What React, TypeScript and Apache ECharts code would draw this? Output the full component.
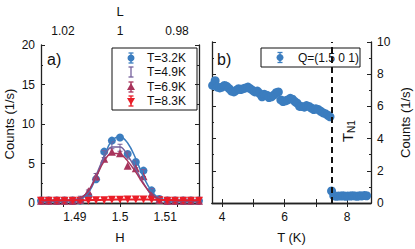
import React, { useEffect, useRef } from "react";
import * as echarts from "echarts";

const H = [1.4825, 1.4842, 1.486, 1.4877, 1.4895, 1.4912, 1.493, 1.4947, 1.4965, 1.4982, 1.5, 1.5017, 1.5035, 1.5052, 1.507, 1.5087, 1.5105, 1.5122, 1.514, 1.5157, 1.5175];
const cnt32 = [0.3, 0.3, 0.3, 0.3, 0.3, 0.3, 0.9, 3.0, 6.5, 7.9, 8.3, 6.2, 5.2, 4.1, 1.6, 0.5, 0.3, 0.3, 0.3, 0.3, 0.3];
const cnt49 = [0.3, 0.3, 0.3, 0.3, 0.3, 0.4, 1.2, 3.3, 6.2, 7.3, 7.0, 6.0, 4.9, 3.8, 1.4, 0.4, 0.3, 0.3, 0.3, 0.3, 0.3];
const cnt69 = [0.3, 0.3, 0.3, 0.3, 0.3, 0.4, 1.5, 3.4, 5.6, 6.5, 6.3, 4.7, 4.4, 3.4, 1.2, 0.4, 0.3, 0.3, 0.3, 0.3, 0.3];
const cnt83 = [0.3, 0.3, 0.3, 0.3, 0.3, 0.3, 0.3, 0.35, 0.35, 0.4, 0.4, 0.45, 0.45, 0.45, 0.4, 0.35, 0.3, 0.3, 0.3, 0.3, 0.3];
const fit32 = [0.3, 0.3, 0.3, 0.3, 0.35, 0.5, 1.3, 3.2, 5.9, 7.9, 8.4, 7.6, 5.6, 3.3, 1.5, 0.6, 0.35, 0.3, 0.3, 0.3, 0.3];
const fit49 = [0.3, 0.3, 0.3, 0.3, 0.35, 0.6, 1.5, 3.5, 5.8, 7.1, 7.1, 6.0, 4.3, 2.5, 1.1, 0.5, 0.35, 0.3, 0.3, 0.3, 0.3];
const fit69 = [0.3, 0.3, 0.3, 0.3, 0.35, 0.6, 1.5, 3.3, 5.3, 6.3, 6.2, 5.3, 3.9, 2.4, 1.1, 0.5, 0.35, 0.3, 0.3, 0.3, 0.3];
const fit83 = [0.35, 0.35, 0.35, 0.35, 0.35, 0.35, 0.36, 0.38, 0.4, 0.42, 0.44, 0.45, 0.45, 0.44, 0.42, 0.4, 0.38, 0.36, 0.35, 0.35, 0.35];

const Ttemp = [3.7, 3.78, 3.85, 3.93, 4.0, 4.08, 4.15, 4.23, 4.3, 4.38, 4.45, 4.53, 4.6, 4.68, 4.75, 4.83, 4.9, 4.98, 5.05, 5.13, 5.2, 5.28, 5.35, 5.43, 5.5, 5.58, 5.65, 5.73, 5.8, 5.88, 5.95, 6.03, 6.1, 6.18, 6.25, 6.33, 6.4, 6.48, 6.55, 6.63, 6.7, 6.78, 6.85, 6.93, 7.0, 7.08, 7.15, 7.23, 7.3, 7.38, 7.45, 7.5, 7.57, 7.65, 7.72, 7.8, 7.87, 7.95, 8.02, 8.1, 8.17, 8.25, 8.32, 8.4, 8.47, 8.55, 8.62];
const cntT = [7.3, 7.6, 7.2, 7.15, 7.2, 7.3, 7.25, 7.1, 6.95, 6.9, 7.0, 7.1, 7.05, 7.1, 7.15, 7.2, 7.1, 7.0, 6.9, 6.95, 6.8, 6.6, 6.75, 6.7, 6.55, 6.6, 6.7, 6.85, 6.9, 6.4, 6.3, 6.35, 6.4, 6.5, 6.45, 6.3, 6.2, 6.0, 6.0, 5.95, 6.05, 6.0, 5.9, 5.8, 5.85, 5.8, 5.7, 5.6, 5.55, 5.45, 5.35, 0.75, 0.45, 0.42, 0.44, 0.43, 0.45, 0.42, 0.44, 0.43, 0.45, 0.44, 0.42, 0.45, 0.44, 0.46, 0.45];
const TN1 = 7.5;

const Hticks = [1.49, 1.5, 1.51];
const Lticks = [0.98, 1, 1.02];
const TtickMajor = [4, 5, 6, 7, 8];
const Tlabels = [4, 6, 8];

const C_BLUE = "#3b7dbf";
const C_PURP = "#75609c";
const C_MAR = "#a8345c";
const C_RED = "#ea1d27";
const FONT = "Liberation Sans";
const AX = { lineStyle: { color: "#222", width: 1.3 } };

const IBEAM = "path://M0,0h5v1h-2v6h2v1h-5v-1h2v-6h-2z";

function legendEntry(x: number, y: number, color: string, marker: string, label: string) {
  const children: any[] = [
    { type: "line", shape: { x1: x, y1: y - 5, x2: x, y2: y + 5 }, style: { stroke: color, lineWidth: 1.3 } },
    { type: "line", shape: { x1: x - 2.5, y1: y - 5, x2: x + 2.5, y2: y - 5 }, style: { stroke: color, lineWidth: 1.3 } },
    { type: "line", shape: { x1: x - 2.5, y1: y + 5, x2: x + 2.5, y2: y + 5 }, style: { stroke: color, lineWidth: 1.3 } },
  ];
  if (marker === "circle") children.push({ type: "circle", shape: { cx: x, cy: y, r: 3.5 }, style: { fill: color } });
  if (marker === "up") children.push({ type: "polygon", shape: { points: [[x, y - 4], [x - 4, y + 3], [x + 4, y + 3]] }, style: { fill: color } });
  if (marker === "down") children.push({ type: "polygon", shape: { points: [[x, y + 4], [x - 4, y - 3], [x + 4, y - 3]] }, style: { fill: color } });
  children.push({ type: "text", x: x + 16, y: y, style: { text: label, font: `12px ${FONT}`, fill: "#111", verticalAlign: "middle" } });
  return { type: "group", children };
}

export default function App() {
  const ref = useRef<HTMLDivElement>(null);
  useEffect(() => {
    const chart = echarts.init(ref.current!, null, { renderer: "svg" });
    const pts = (xs: number[], ys: number[]) => xs.map((x, i) => [x, ys[i]]);
    const labelStyle = { color: "#111", fontSize: 12, fontFamily: FONT };
    const nameStyle = { color: "#111", fontSize: 13, fontFamily: FONT };
    const option: any = {
      animation: false,
      textStyle: { fontFamily: FONT },
      grid: [
        { left: 41, top: 42, width: 158, height: 166 },
        { left: 212, top: 42, width: 159, height: 166 },
      ],
      xAxis: [
        {
          type: "value", gridIndex: 0, position: "bottom", min: 1.4825, max: 1.5175,
          axisLine: AX, splitLine: { show: false },
          axisTick: { inside: true, length: 4, customValues: Hticks, lineStyle: { color: "#222" } },
          axisLabel: { customValues: Hticks, ...labelStyle, margin: 8 },
          name: "H", nameLocation: "middle", nameGap: 28, nameTextStyle: nameStyle,
        },
        {
          type: "value", gridIndex: 0, position: "top", inverse: true, min: 0.9723, max: 1.0277,
          axisLine: AX, splitLine: { show: false },
          axisTick: { inside: true, length: 4, customValues: Lticks, lineStyle: { color: "#222" } },
          axisLabel: { customValues: Lticks, ...labelStyle, margin: 8 },
          name: "L", nameLocation: "middle", nameGap: 27, nameTextStyle: nameStyle,
        },
        {
          type: "value", gridIndex: 1, position: "bottom", min: 3.68, max: 8.76,
          axisLine: AX, splitLine: { show: false },
          axisTick: { inside: true, length: 4, customValues: TtickMajor, lineStyle: { color: "#222" } },
          axisLabel: { customValues: Tlabels, ...labelStyle, margin: 8 },
          name: "T (K)", nameLocation: "middle", nameGap: 28, nameTextStyle: nameStyle,
        },
        {
          type: "value", gridIndex: 1, position: "top", min: 3.68, max: 8.76,
          axisLine: AX, splitLine: { show: false },
          axisTick: { inside: true, length: 4, customValues: TtickMajor, lineStyle: { color: "#222" } },
          axisLabel: { show: false },
        },
      ],
      yAxis: [
        {
          type: "value", gridIndex: 0, position: "left", min: 0, max: 20, interval: 5,
          axisLine: AX, splitLine: { show: false },
          axisTick: { inside: true, length: 4, lineStyle: { color: "#222" } },
          minorTick: { show: true, splitNumber: 2, length: 2, lineStyle: { color: "#222" } },
          axisLabel: { ...labelStyle, margin: 6 },
          name: "Counts (1/s)", nameLocation: "middle", nameGap: 25, nameRotate: 90, nameTextStyle: nameStyle,
        },
        {
          type: "value", gridIndex: 0, position: "right", min: 0, max: 20, interval: 5,
          axisLine: AX, splitLine: { show: false },
          axisTick: { inside: true, length: 4, lineStyle: { color: "#222" } },
          minorTick: { show: true, splitNumber: 2, length: 2, lineStyle: { color: "#222" } },
          axisLabel: { show: false },
        },
        {
          type: "value", gridIndex: 1, position: "left", min: 0, max: 10, interval: 2,
          axisLine: AX, splitLine: { show: false },
          axisTick: { inside: true, length: 4, lineStyle: { color: "#222" } },
          minorTick: { show: true, splitNumber: 2, length: 2, lineStyle: { color: "#222" } },
          axisLabel: { show: false },
        },
        {
          type: "value", gridIndex: 1, position: "right", min: 0, max: 10, interval: 2,
          axisLine: AX, splitLine: { show: false },
          axisTick: { inside: true, length: 4, lineStyle: { color: "#222" } },
          minorTick: { show: true, splitNumber: 2, length: 2, lineStyle: { color: "#222" } },
          axisLabel: { ...labelStyle, margin: 6 },
          name: "Counts (1/s)", nameLocation: "middle", nameGap: 28, nameRotate: 90, nameTextStyle: nameStyle,
        },
      ],
      series: [
        { type: "line", xAxisIndex: 0, yAxisIndex: 0, data: pts(H, fit32), smooth: 0.4, symbol: "none", lineStyle: { color: C_BLUE, width: 1.5 } },
        { type: "scatter", xAxisIndex: 0, yAxisIndex: 0, data: pts(H, cnt32), symbol: "circle", symbolSize: 8, itemStyle: { color: C_BLUE, opacity: 1 } },
        { type: "line", xAxisIndex: 0, yAxisIndex: 0, data: pts(H, fit49), smooth: 0.4, symbol: "none", lineStyle: { color: C_PURP, width: 1.5 } },
        { type: "scatter", xAxisIndex: 0, yAxisIndex: 0, data: pts(H, cnt49), symbol: IBEAM, symbolSize: [5, 8], itemStyle: { color: C_PURP, opacity: 1 } },
        { type: "line", xAxisIndex: 0, yAxisIndex: 0, data: pts(H, fit69), smooth: 0.4, symbol: "none", lineStyle: { color: C_MAR, width: 1.5 } },
        { type: "scatter", xAxisIndex: 0, yAxisIndex: 0, data: pts(H, cnt69), symbol: "triangle", symbolSize: 8, itemStyle: { color: C_MAR, opacity: 1 } },
        { type: "line", xAxisIndex: 0, yAxisIndex: 0, data: pts(H, fit83), smooth: 0.4, symbol: "none", lineStyle: { color: C_RED, width: 2 } },
        { type: "scatter", xAxisIndex: 0, yAxisIndex: 0, data: pts(H, cnt83), symbol: "triangle", symbolRotate: 180, symbolSize: 8, itemStyle: { color: C_RED, opacity: 1 } },
        {
          type: "scatter", xAxisIndex: 2, yAxisIndex: 3, data: pts(Ttemp, cntT), symbol: "circle", symbolSize: 9, clip: false,
          itemStyle: { color: C_BLUE, opacity: 1 },
          markLine: {
            silent: true, symbol: "none", label: { show: false },
            lineStyle: { color: "#111", type: [6, 4], width: 2 },
            data: [{ xAxis: TN1 }],
          },
        },
      ],
      graphic: [
        { type: "text", x: 47, y: 59, style: { text: "a)", font: `16px ${FONT}`, fill: "#111", verticalAlign: "middle" } },
        { type: "text", x: 217, y: 59, style: { text: "b)", font: `16px ${FONT}`, fill: "#111", verticalAlign: "middle" } },
        { type: "rect", shape: { x: 112, y: 48, width: 85, height: 62 }, style: { fill: "#fff", stroke: "#111", lineWidth: 1 } },
        legendEntry(131, 58, C_BLUE, "circle", "T=3.2K"),
        legendEntry(131, 72, C_PURP, "none", "T=4.9K"),
        legendEntry(131, 87, C_MAR, "up", "T=6.9K"),
        legendEntry(131, 101, C_RED, "down", "T=8.3K"),
        { type: "rect", shape: { x: 261, y: 48, width: 99, height: 19 }, style: { fill: "#fff", stroke: "#111", lineWidth: 1 } },
        {
          type: "group",
          children: [
            { type: "line", shape: { x1: 280, y1: 52.5, x2: 280, y2: 62.5 }, style: { stroke: C_BLUE, lineWidth: 1.3 } },
            { type: "line", shape: { x1: 277.5, y1: 52.5, x2: 282.5, y2: 52.5 }, style: { stroke: C_BLUE, lineWidth: 1.3 } },
            { type: "line", shape: { x1: 277.5, y1: 62.5, x2: 282.5, y2: 62.5 }, style: { stroke: C_BLUE, lineWidth: 1.3 } },
            { type: "circle", shape: { cx: 280, cy: 57.5, r: 3.5 }, style: { fill: C_BLUE } },
            { type: "text", x: 298, y: 57.5, style: { text: "Q=(1.5 0 1)", font: `12px ${FONT}`, fill: "#111", verticalAlign: "middle" } },
          ],
        },
        {
          type: "group", x: 347, y: 132, rotation: Math.PI / 2,
          children: [
            { type: "text", x: -10, y: 0, style: { text: "T", font: `15px ${FONT}`, fill: "#111", verticalAlign: "middle" } },
            { type: "text", x: -1, y: 4, style: { text: "N1", font: `10px ${FONT}`, fill: "#111", verticalAlign: "middle" } },
          ],
        },
      ],
    };
    chart.setOption(option);
    return () => chart.dispose();
  }, []);
  return <div ref={ref} style={{ width: 415, height: 249, position: "absolute", left: 0, top: 0 }} />;
}
